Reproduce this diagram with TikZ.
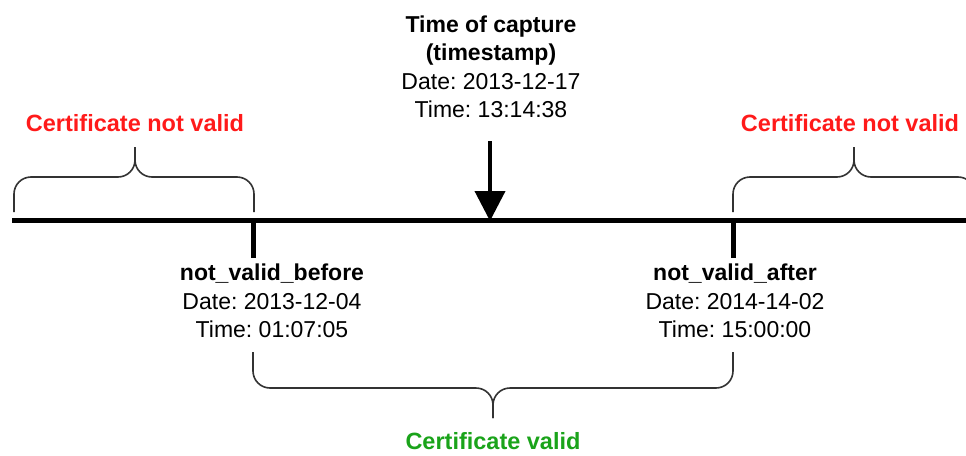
\documentclass[tikz,border=0pt]{standalone}
\usepackage{fontspec}
\setmainfont{Liberation Sans}
\usetikzlibrary{arrows.meta}
\definecolor{badred}{HTML}{FF1A1A}
\definecolor{goodgreen}{HTML}{1AA31A}
\definecolor{bracegray}{HTML}{333333}
\frenchspacing
\tikzset{
  lbl/.style={align=center, font=\fontsize{23}{28.5}\selectfont, inner sep=0pt},
  redlbl/.style={font=\fontsize{23.5}{26}\selectfont\bfseries, text=badred, inner sep=0pt},
  greenlbl/.style={font=\fontsize{23.5}{26}\selectfont\bfseries, text=goodgreen, inner sep=0pt},
  timeline/.style={line width=5pt},
  tickmark/.style={line width=5pt},
  bracepath/.style={draw=bracegray, line width=1.6pt, rounded corners=17pt},
  capture/.style={line width=4pt, -{Triangle[width=30pt,length=30pt]}}
}
\begin{document}
\begin{tikzpicture}[x=1pt,y=-1pt]
\useasboundingbox (0,0) rectangle (966,455);
% timeline
\coordinate (L) at (12,220);
\coordinate (R) at (966,220);
\draw[timeline] (L) -- (R);
% ticks
\coordinate (nb) at (253,220);
\coordinate (nbb) at (253,258);
\coordinate (na) at (733,220);
\coordinate (nab) at (733,258);
\draw[tickmark] (nb) -- (nbb);
\draw[tickmark] (na) -- (nab);
% capture arrow
\coordinate (arrTop) at (490,141);
\coordinate (arrTip) at (490,221);
\draw[capture] (arrTop) -- (arrTip);
% texts
\node[lbl] (cap) at (491,67) {\textbf{Time of capture}\\\textbf{(timestamp)}\\Date: 2013-12-17\\Time: 13:14:38};
\node[lbl] (bef) at (272,301) {\textbf{not\_valid\_before}\\Date: 2013-12-04\\Time: 01:07:05};
\node[lbl] (aft) at (735,301) {\textbf{not\_valid\_after}\\Date: 2014-14-02\\Time: 15:00:00};
\node[redlbl] (nvl) at (135,123) {Certificate not valid};
\node[redlbl] (nvr) at (850,123) {Certificate not valid};
\node[greenlbl] (val) at (493,441) {Certificate valid};
% left brace
\coordinate (lb1) at (14,212);
\coordinate (lb2) at (254,212);
\coordinate (lbt) at (135,147);
\draw[bracepath] (lb1) -- (14,177) -- (135,177) -- (lbt);
\draw[bracepath] (lb2) -- (254,177) -- (135,177) -- (lbt);
% right brace
\coordinate (rb1) at (733,212);
\coordinate (rb2) at (975,212);
\coordinate (rbt) at (854,147);
\draw[bracepath] (rb1) -- (733,177) -- (854,177) -- (rbt);
\draw[bracepath] (rb2) -- (975,177) -- (854,177) -- (rbt);
% bottom brace
\coordinate (bb1) at (253,352);
\coordinate (bb2) at (733,352);
\coordinate (bbt) at (493,418);
\draw[bracepath] (bb1) -- (253,388) -- (493,388) -- (bbt);
\draw[bracepath] (bb2) -- (733,388) -- (493,388) -- (bbt);
\end{tikzpicture}
\end{document}
